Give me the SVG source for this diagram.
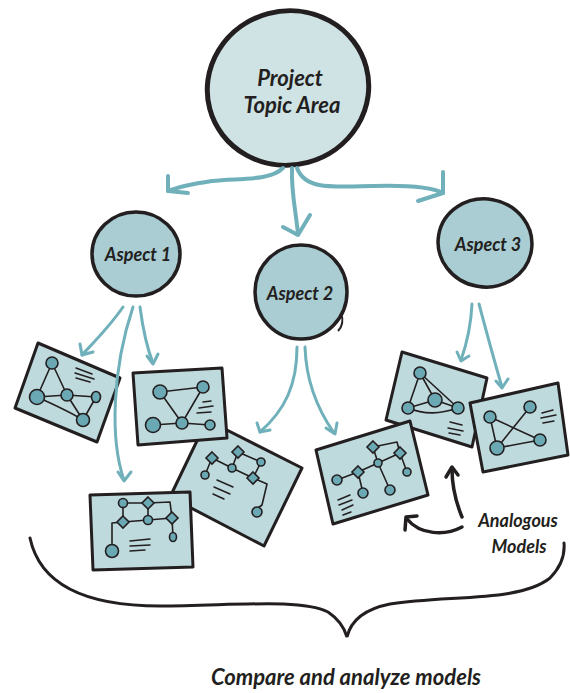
<svg xmlns="http://www.w3.org/2000/svg" width="570" height="693" viewBox="0 0 570 693">
<defs>
<style>
.txt{font-family:Lato,"Open Sans","Liberation Sans",sans-serif;font-style:italic;font-weight:700;fill:#231f20;text-anchor:middle}
.big{fill:#cfe2e4;stroke:#231f20;stroke-width:5}
.asp{fill:#a9cdd2;stroke:#231f20;stroke-width:3.5}
.card{fill:#bfdadd;stroke:#231f20;stroke-width:3;stroke-linejoin:round}
.e{fill:none;stroke:#231f20;stroke-width:1.6;stroke-linecap:round;stroke-linejoin:round}
.n{fill:#6aa9b3;stroke:#231f20;stroke-width:1.6}
.sq{fill:none;stroke:#231f20;stroke-width:1.5;stroke-linecap:round}
.ta{fill:none;stroke:#6fb0ba;stroke-width:4;stroke-linecap:round;stroke-linejoin:round}
.ts{fill:none;stroke:#6fb0ba;stroke-width:3;stroke-linecap:round;stroke-linejoin:round}
.ba{fill:none;stroke:#231f20;stroke-width:3.5;stroke-linecap:round;stroke-linejoin:round}
</style>
</defs>

<g id="topic">
<ellipse class="big" cx="288" cy="88" rx="81" ry="77" transform="rotate(-15 288 88)"/>
<text class="txt" x="290" y="86" font-size="22">Project</text>
<text class="txt" x="292" y="113" font-size="22">Topic Area</text>
</g>

<g id="aspect1">
<ellipse class="asp" cx="136" cy="254" rx="44" ry="42"/>
<text class="txt" x="138" y="261" font-size="18">Aspect 1</text>
</g>
<g id="aspect2">
<ellipse class="asp" cx="301" cy="292" rx="46" ry="47"/>
<path d="M341,314 C344,320 342,327 338,331" fill="none" stroke="#231f20" stroke-width="2"/>
<text class="txt" x="300" y="300" font-size="18">Aspect 2</text>
</g>
<g id="aspect3">
<ellipse class="asp" cx="485" cy="243" rx="47" ry="44" transform="rotate(10 485 243)"/>
<text class="txt" x="488" y="251" font-size="18">Aspect 3</text>
</g>

<g id="cardA">
<polygon class="card" points="38,343 120,378 97,442 15,408"/>
<path class="e" d="M52,363 L37,397 M52,363 L67,395 M37,397 L67,395 L96,397 M67,395 L83,420 M96,397 L83,420 M37,397 C55,405 70,412 83,420"/>
<circle class="n" cx="52" cy="363" r="6"/>
<circle class="n" cx="37" cy="397" r="7.5"/>
<circle class="n" cx="67" cy="395" r="6"/>
<ellipse class="n" cx="96" cy="397" rx="4.5" ry="5.5"/>
<circle class="n" cx="83" cy="420" r="6.5"/>
<path class="sq" d="M76,368 L92,374 M75,373 L94,379 M76,378 L90,382"/>
</g>

<g id="cardD">
<polygon class="card" points="207,420 302,468 264,546 170,497"/>
<path class="e" d="M212,458 L232,468 M232,468 L238,452 M238,452 L261,462 M232,468 L253,478 M261,462 L253,478 M212,458 L205,475 M253,478 L267,484 L262,505 L258,508"/>
<polygon class="n" points="212,452 218,458 212,464 206,458"/>
<polygon class="n" points="238,446 244,452 238,458 232,452"/>
<polygon class="n" points="253,472 259,478 253,484 247,478"/>
<circle class="n" cx="205" cy="475" r="4"/>
<circle class="n" cx="232" cy="468" r="4"/>
<circle class="n" cx="261" cy="462" r="4"/>
<circle class="n" cx="257" cy="512" r="5"/>
<path class="sq" d="M217,480 L233,487 M214,487 L230,494 M213,494 L224,499"/>
</g>

<g id="cardB">
<polygon class="card" points="133,373 222,368 227,438 138,445"/>
<path class="e" d="M160,392 L203,387 M160,392 L182,423 M203,387 L182,423 M153,425 L182,423 L210,425"/>
<circle class="n" cx="160" cy="392" r="7"/>
<circle class="n" cx="203" cy="387" r="6"/>
<circle class="n" cx="153" cy="425" r="7.5"/>
<circle class="n" cx="182" cy="423" r="6"/>
<circle class="n" cx="210" cy="425" r="5"/>
<path class="sq" d="M203,402 L211,401 M199,408 L213,406 M197,413 L211,412"/>
</g>

<g id="cardC">
<polygon class="card" points="90,495 190,492 193,567 93,570"/>
<path class="e" d="M123,503 L148,503 M148,503 L170,502 L172,518 M148,503 L148,520 M123,503 L123,522 M123,522 L148,520 L172,518 M172,518 L173,537 M123,522 L112,523 L112,551"/>
<circle class="n" cx="123" cy="503" r="4.5"/>
<polygon class="n" points="148,497 154,503 148,509 142,503"/>
<polygon class="n" points="123,516 129,522 123,528 117,522"/>
<circle class="n" cx="148" cy="520" r="4.5"/>
<polygon class="n" points="172,512 178,518 172,524 166,518"/>
<ellipse class="n" cx="173" cy="537" rx="3.5" ry="4.5"/>
<circle class="n" cx="112" cy="551" r="6.5"/>
<path class="sq" d="M130,541 L150,539 M130,546 L150,545 M130,551 L145,550"/>
</g>

<g id="cardF">
<polygon class="card" points="402,352 487,378 472,447 386,420"/>
<path class="e" d="M420,373 L408,408 M420,373 L458,408 M420,373 L435,400 M435,400 L408,408 M435,400 L458,408 M408,408 C425,415 440,414 458,408"/>
<circle class="n" cx="420" cy="373" r="6"/>
<circle class="n" cx="435" cy="400" r="7"/>
<circle class="n" cx="408" cy="408" r="6"/>
<circle class="n" cx="458" cy="408" r="6"/>
<path class="sq" d="M450,422 L462,425 M448,428 L463,431 M449,433 L460,435"/>
</g>

<g id="cardE">
<polygon class="card" points="316,450 410,421 428,495 333,524"/>
<path class="e" d="M373,447 L397,442 L400,453 M373,447 L378,463 M400,453 L378,463 M400,453 L407,472 M378,463 L358,472 M358,472 L337,480 M358,472 L363,493 M378,463 L390,490"/>
<polygon class="n" points="373,441 379,447 373,453 367,447"/>
<polygon class="n" points="400,447 406,453 400,459 394,453"/>
<polygon class="n" points="358,466 364,472 358,478 352,472"/>
<circle class="n" cx="378" cy="463" r="4"/>
<circle class="n" cx="407" cy="472" r="4"/>
<circle class="n" cx="337" cy="480" r="5"/>
<circle class="n" cx="363" cy="493" r="5"/>
<circle class="n" cx="390" cy="490" r="5"/>
<path class="sq" d="M338,500 L350,495 M339,505 L352,500 M342,510 L353,505 M343,515 L351,512"/>
</g>

<g id="cardG">
<polygon class="card" points="470,403 558,383 568,455 483,472"/>
<path class="e" d="M490,417 L497,448 M490,417 L540,440 M530,407 L497,448 M497,448 L540,440"/>
<circle class="n" cx="490" cy="417" r="6"/>
<circle class="n" cx="530" cy="407" r="6"/>
<circle class="n" cx="497" cy="448" r="7"/>
<circle class="n" cx="540" cy="440" r="6"/>
<path class="sq" d="M542,413 L553,410 M541,418 L556,415 M543,423 L554,421"/>
</g>

<g id="connectors">
<path class="ta" d="M283,168 C270,181 240,178 212,181 C192,184 178,187 168,191"/>
<path class="ta" d="M168,176 L168,191 L188,193"/>
<path class="ta" d="M292,168 C291,192 296,212 298,234"/>
<path class="ta" d="M283,227 L298,235 L310,215"/>
<path class="ta" d="M297,168 C305,190 332,187 372,186 C405,185 430,186 443,193"/>
<path class="ta" d="M443,172 L443,193 L418,201"/>

<path class="ts" d="M123,307 C110,326 95,341 82,355"/>
<path class="ts" d="M80,344 L82,355 L93,352"/>
<path class="ts" d="M140,307 C143,330 147,348 153,363"/>
<path class="ts" d="M147,356 L153,364 L158,354"/>
<path class="ts" d="M133,307 C112,370 110,440 124,480"/>
<path class="ts" d="M118,472 L124,481 L131,472"/>

<path class="ts" d="M297,347 C297,385 285,410 260,432"/>
<path class="ts" d="M257,423 L260,432 L270,430"/>
<path class="ts" d="M305,347 C306,380 318,410 334,433"/>
<path class="ts" d="M326,428 L335,434 L337,423"/>

<path class="ts" d="M472,304 C471,325 467,343 461,360"/>
<path class="ts" d="M457,352 L461,361 L469,356"/>
<path class="ts" d="M479,304 C486,330 494,360 502,387"/>
<path class="ts" d="M496,381 L502,388 L508,379"/>

<path class="ba" d="M462,517 C455,500 452,485 452,469"/>
<path class="ba" d="M446,477 L452,467 L458,475"/>
<path class="ba" d="M462,527 C445,536 420,535 407,519"/>
<path class="ba" d="M405,530 L406,517 L417,516"/>
</g>

<g id="brace">
<path d="M30,538 C40,585 85,606 160,606 C230,606 300,598 328,612 C340,620 345,630 347,637 C350,624 360,610 390,604 C450,595 520,602 550,578 C560,568 565,555 564,543" fill="none" stroke="#231f20" stroke-width="3" stroke-linecap="round"/>
</g>

<g id="labels">
<text class="txt" x="518" y="527" font-size="18">Analogous</text>
<text class="txt" x="519" y="553" font-size="18">Models</text>
<text class="txt" x="346" y="685" font-size="22">Compare and analyze models</text>
</g>
</svg>
